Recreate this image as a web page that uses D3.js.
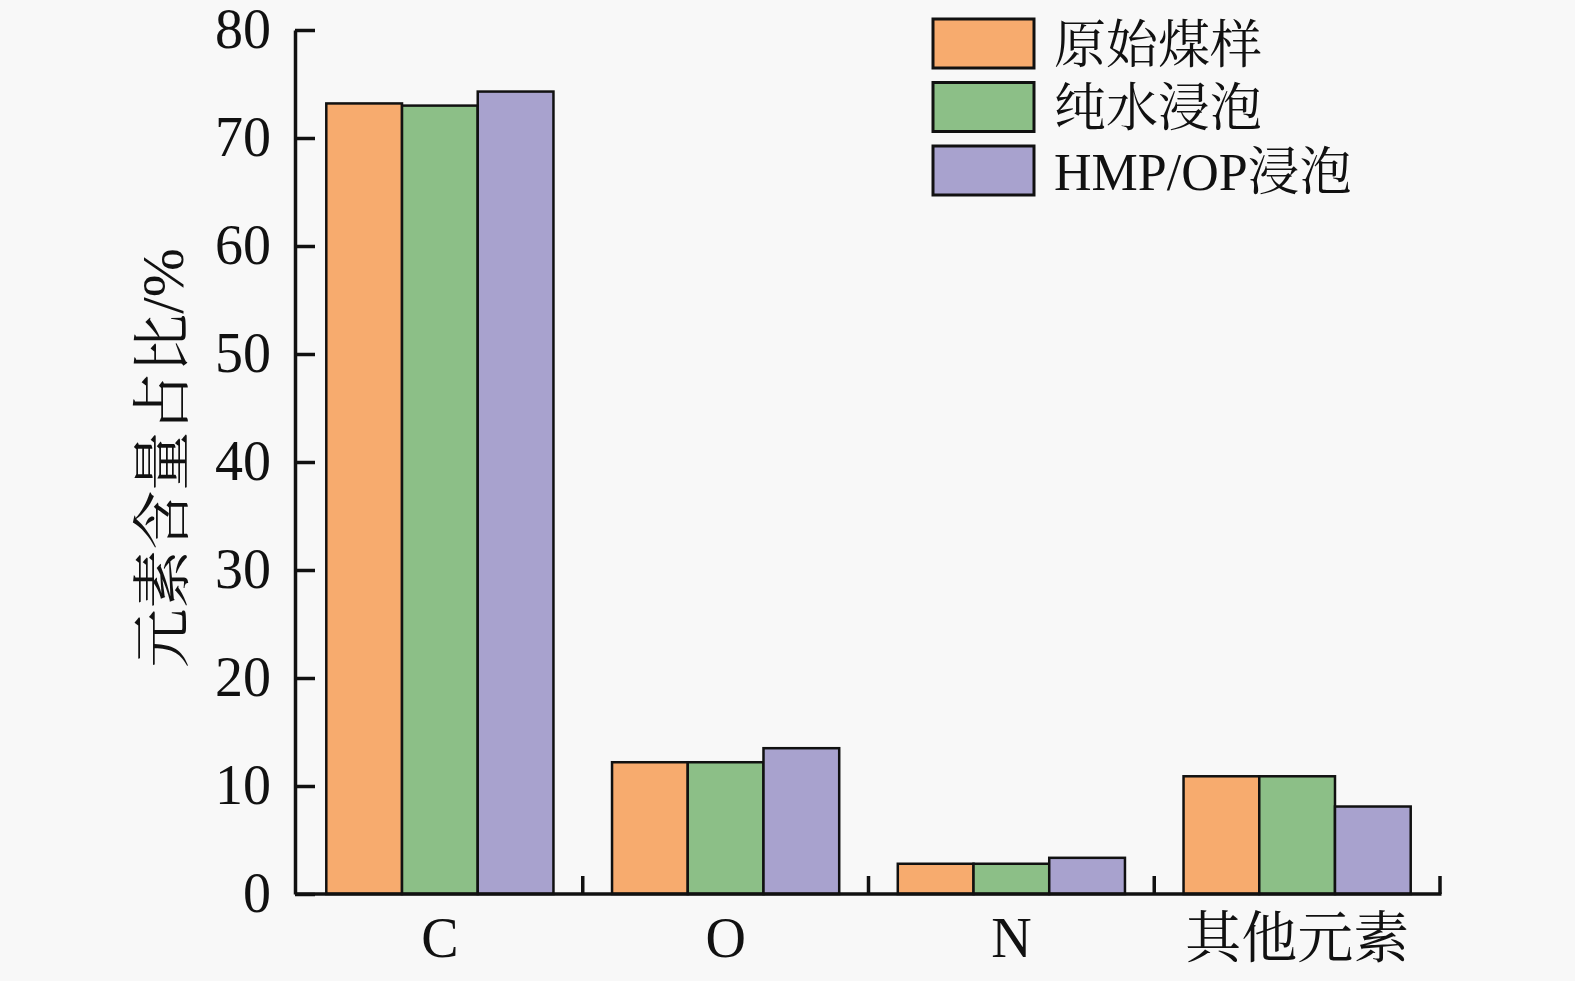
<!DOCTYPE html>
<meta charset="utf-8">
<head>
  <title>元素含量占比</title>
</head>

<style>
  body {
    margin: 0;
    background: #f8f8f8;
  }
  svg text {
    font-family: "Liberation Serif", "Times New Roman", "Noto Serif CJK SC", "Noto Sans CJK SC", serif;
    fill: #111;
  }
</style>

<body>
<svg id="chart" width="1575" height="981"></svg>

<script src="https://cdnjs.cloudflare.com/ajax/libs/d3/7.8.5/d3.min.js"></script>
<script>
  var categories = ["C", "O", "N", "其他元素"];
  var seriesNames = ["原始煤样", "纯水浸泡", "HMP/OP浸泡"];
  var seriesColors = ["#F7AB6E", "#8CBF87", "#A8A2CE"];

  // values per category, series order: 原始煤样, 纯水浸泡, HMP/OP浸泡
  var valuesC = [73.2, 73.0, 74.3];
  var valuesO = [12.2, 12.2, 13.5];
  var valuesN = [2.8, 2.8, 3.35];
  var valuesOther = [10.9, 10.9, 8.1];

  var yTicks = [0, 10, 20, 30, 40, 50, 60, 70, 80];

  var rows = [valuesC, valuesO, valuesN, valuesOther].map(function(v, i) {
    return { cat: categories[i], values: v };
  });

  var svg = d3.select('#chart');

  var y = d3.scaleLinear()
    .domain([0, 80])
    .range([894, 30]);

  var x0 = d3.scaleBand()
    .domain(categories)
    .range([297, 1440])
    .paddingInner(0.205)
    .paddingOuter(0.1025);

  var x1 = d3.scaleBand()
    .domain(seriesNames)
    .range([0, x0.bandwidth()]);

  var color = d3.scaleOrdinal()
    .domain(seriesNames)
    .range(seriesColors);

  // bars
  var groups = svg.selectAll('g.group')
    .data(rows)
    .enter()
    .append('g')
    .attr('class', 'group')
    .attr('transform', function(d) { return 'translate(' + x0(d.cat) + ',0)'; });

  groups.selectAll('rect')
    .data(function(d) {
      return d.values.map(function(v, i) { return { name: seriesNames[i], value: v }; });
    })
    .enter()
    .append('rect')
    .attr('x', function(d) { return x1(d.name); })
    .attr('y', function(d) { return y(d.value); })
    .attr('width', x1.bandwidth())
    .attr('height', function(d) { return y(0) - y(d.value); })
    .style('fill', function(d) { return color(d.name); })
    .style('stroke', '#111')
    .style('stroke-width', 2.5);

  // y axis
  var yAxis = svg.append('g')
    .attr('transform', 'translate(295,0)')
    .call(d3.axisLeft(y).tickValues(yTicks).tickSizeInner(-20).tickSizeOuter(0).tickPadding(24));
  yAxis.select('.domain').style('stroke', '#111').style('stroke-width', 3.5);
  yAxis.selectAll('.tick line').style('stroke', '#111').style('stroke-width', 3.5);
  yAxis.selectAll('.tick text').style('font-size', '56px');

  // x axis
  var xAxis = svg.append('g')
    .attr('transform', 'translate(0,894)')
    .call(d3.axisBottom(x0).tickSize(0).tickPadding(23));
  xAxis.select('.domain').remove();
  xAxis.selectAll('.tick text').style('font-size', '56px');

  svg.append('line')
    .attr('x1', 295)
    .attr('x2', x0.range()[1] + 1.5)
    .attr('y1', y(0))
    .attr('y2', y(0))
    .style('stroke', '#111')
    .style('stroke-width', 3.5);

  // boundary ticks on the x axis
  var step = x0.step();
  svg.append('g')
    .selectAll('line')
    .data(categories)
    .enter()
    .append('line')
    .attr('x1', function(d) { return x0(d) + x0.bandwidth() + (step - x0.bandwidth()) / 2; })
    .attr('x2', function(d) { return x0(d) + x0.bandwidth() + (step - x0.bandwidth()) / 2; })
    .attr('y1', y(0))
    .attr('y2', y(0) - 18)
    .style('stroke', '#111')
    .style('stroke-width', 3.5);

  // y title
  svg.append('text')
    .attr('transform', 'translate(183,458) rotate(-90)')
    .attr('text-anchor', 'middle')
    .style('font-size', '59px')
    .text('元素含量占比/%');

  // legend
  var legend = svg.append('g')
    .attr('transform', 'translate(933,19)');

  var items = legend.selectAll('g')
    .data(seriesNames)
    .enter()
    .append('g')
    .attr('transform', function(d, i) { return 'translate(0,' + (i * 63.5) + ')'; });

  items.append('rect')
    .attr('width', 101)
    .attr('height', 49)
    .style('fill', function(d) { return color(d); })
    .style('stroke', '#111')
    .style('stroke-width', 3);

  items.append('text')
    .attr('x', 121)
    .attr('y', 25)
    .attr('dy', '0.36em')
    .style('font-size', '52px')
    .text(function(d) { return d; });
</script>
</body>
</html>
